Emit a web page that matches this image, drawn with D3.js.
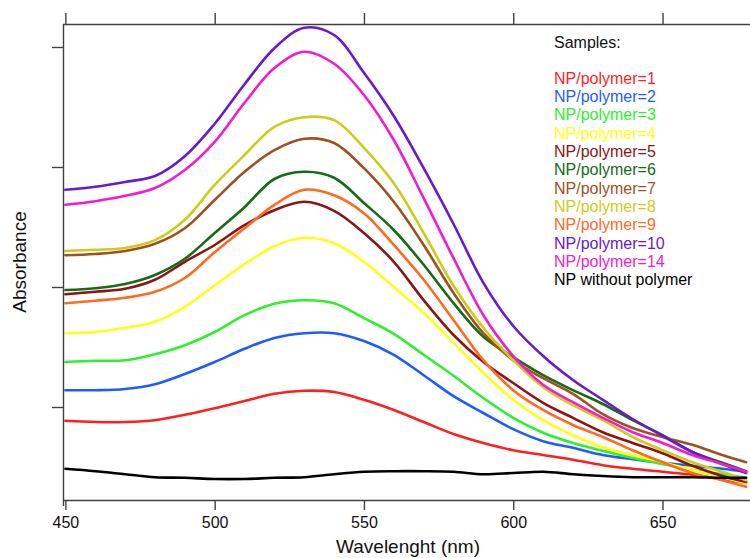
<!DOCTYPE html>
<html><head><meta charset="utf-8">
<script src="https://cdn.jsdelivr.net/npm/d3@7"></script>
<style>html,body{margin:0;padding:0;background:#fff;}svg{display:block;font-family:"Liberation Sans",Arial,sans-serif;}</style>
</head><body>
<svg id="chart" width="750" height="558"></svg>
<script>
const wavelengths = [450,460,470,480,490,500,510,520,530,540,550,560,570,580,590,600,610,620,630,640,650,660,670,678];
const xTicks = [450,500,550,600,650];
const yTicks = [0.2,0.4,0.6,0.8];
const seriesNames = ["NP/polymer=1","NP/polymer=2","NP/polymer=3","NP/polymer=4","NP/polymer=5","NP/polymer=6","NP/polymer=7","NP/polymer=8","NP/polymer=9","NP/polymer=10","NP/polymer=14","NP without polymer"];
const seriesColors = ["#ff1f1f","#1f5cff","#2ef02e","#ffff14","#8b1515","#166b16","#a0501e","#cccc1a","#ff6a1f","#6a19cc","#f51ad2","#000000"];
const s1  = [0.177,0.175,0.175,0.178,0.187,0.198,0.210,0.222,0.227,0.225,0.212,0.195,0.175,0.155,0.140,0.128,0.120,0.112,0.103,0.097,0.092,0.087,0.080,0.073];
const s2  = [0.228,0.228,0.230,0.238,0.255,0.275,0.297,0.315,0.323,0.323,0.310,0.287,0.253,0.218,0.190,0.163,0.143,0.132,0.120,0.113,0.107,0.102,0.097,0.092];
const s3  = [0.275,0.277,0.278,0.288,0.303,0.325,0.353,0.372,0.378,0.373,0.348,0.322,0.287,0.252,0.215,0.182,0.157,0.140,0.127,0.115,0.105,0.095,0.088,0.082];
const s4  = [0.323,0.325,0.332,0.342,0.367,0.403,0.438,0.468,0.482,0.473,0.442,0.400,0.357,0.307,0.257,0.212,0.178,0.153,0.133,0.120,0.108,0.095,0.083,0.073];
const s5  = [0.388,0.392,0.397,0.412,0.442,0.470,0.503,0.528,0.542,0.527,0.490,0.442,0.378,0.320,0.275,0.240,0.207,0.182,0.158,0.140,0.123,0.102,0.085,0.075];
const s6  = [0.395,0.398,0.405,0.420,0.447,0.490,0.533,0.580,0.592,0.582,0.540,0.495,0.437,0.373,0.317,0.283,0.253,0.228,0.205,0.178,0.153,0.125,0.107,0.093];
const s7  = [0.453,0.455,0.460,0.472,0.498,0.545,0.592,0.628,0.647,0.640,0.598,0.542,0.470,0.390,0.323,0.278,0.248,0.222,0.188,0.165,0.150,0.137,0.120,0.108];
const s8  = [0.460,0.462,0.465,0.478,0.512,0.570,0.620,0.667,0.683,0.678,0.632,0.573,0.490,0.402,0.332,0.278,0.233,0.203,0.178,0.150,0.128,0.108,0.092,0.078];
const s9  = [0.373,0.377,0.382,0.392,0.415,0.458,0.498,0.537,0.562,0.553,0.523,0.470,0.412,0.345,0.278,0.228,0.195,0.170,0.150,0.128,0.108,0.090,0.078,0.067];
const s10 = [0.562,0.567,0.575,0.585,0.618,0.672,0.738,0.798,0.832,0.820,0.757,0.685,0.598,0.505,0.407,0.335,0.285,0.245,0.212,0.180,0.152,0.125,0.105,0.090];
const s14 = [0.537,0.543,0.552,0.565,0.595,0.642,0.707,0.765,0.792,0.772,0.720,0.645,0.548,0.448,0.353,0.285,0.237,0.208,0.182,0.158,0.140,0.120,0.105,0.092];
const s0  = [0.097,0.093,0.088,0.083,0.082,0.080,0.080,0.082,0.083,0.088,0.092,0.093,0.093,0.092,0.088,0.090,0.092,0.088,0.085,0.083,0.083,0.083,0.082,0.082];
const seriesValues = [s1,s2,s3,s4,s5,s6,s7,s8,s9,s10,s14,s0];

const svg = d3.select("#chart");
const mLeft = 63, mRight = 750, mTop = 24, mBottom = 500;
const x = d3.scaleLinear().domain([449.2, 679.3]).range([mLeft, mRight]);
const y = d3.scaleLinear().domain([0.045, 0.8383]).range([mBottom, mTop]);
const axisColor = "#404040";

svg.append("defs").append("clipPath").attr("id","clip")
  .append("rect").attr("x", mLeft).attr("y", mTop).attr("width", mRight-mLeft).attr("height", mBottom-mTop);

const line = d3.line().x(d => x(d[0])).y(d => y(d[1])).curve(d3.curveCatmullRom.alpha(0.5));
const g = svg.append("g").attr("clip-path","url(#clip)");
seriesValues.forEach((vals, i) => {
  g.append("path")
    .datum(wavelengths.map((w, j) => [w, vals[j]]))
    .attr("fill","none").attr("stroke", seriesColors[i])
    .attr("stroke-width", 2.6).attr("stroke-linejoin","round").attr("stroke-linecap","round")
    .attr("d", line);
});

// bottom axis
const xb = svg.append("g").attr("transform", `translate(0,${mBottom})`)
  .call(d3.axisBottom(x).tickValues(xTicks).tickSize(10).tickPadding(7).tickSizeOuter(0));
xb.select(".domain").attr("d", `M${mLeft},0.5H${mRight}`);
xb.selectAll("text").attr("font-size", 16).attr("fill","#111").attr("font-family","Liberation Sans, Arial, sans-serif");
// top axis
const xt = svg.append("g").attr("transform", `translate(0,${mTop})`)
  .call(d3.axisTop(x).tickValues(xTicks).tickSize(11).tickFormat("").tickSizeOuter(0));
xt.select(".domain").attr("d", `M${mLeft},0.5H${mRight}`);
// left axis
const yl = svg.append("g").attr("transform", `translate(${mLeft},0)`)
  .call(d3.axisLeft(y).tickValues(yTicks).tickSize(11).tickFormat("").tickSizeOuter(0));
yl.select(".domain").attr("d", `M0.5,${mTop}V${mBottom + 6}`);
svg.selectAll(".domain, .tick line").attr("stroke", axisColor).attr("stroke-width", 1.4);

svg.append("text").attr("x", 408).attr("y", 553).attr("text-anchor","middle")
  .attr("font-size", 19).attr("fill","#111").text("Wavelenght (nm)");
svg.append("text").attr("transform","translate(26,262) rotate(-90)").attr("text-anchor","middle")
  .attr("font-size", 19).attr("fill","#111").text("Absorbance");

// legend
const lg = svg.append("g");
lg.append("text").attr("x", 554).attr("y", 48).attr("font-size", 16).attr("fill","#111").text("Samples:");
seriesNames.forEach((name, i) => {
  lg.append("text").attr("x", 554).attr("y", 83.5 + i * 18.35).attr("font-size", 16)
    .attr("fill", seriesColors[i]).text(name);
});
</script>
</body></html>
